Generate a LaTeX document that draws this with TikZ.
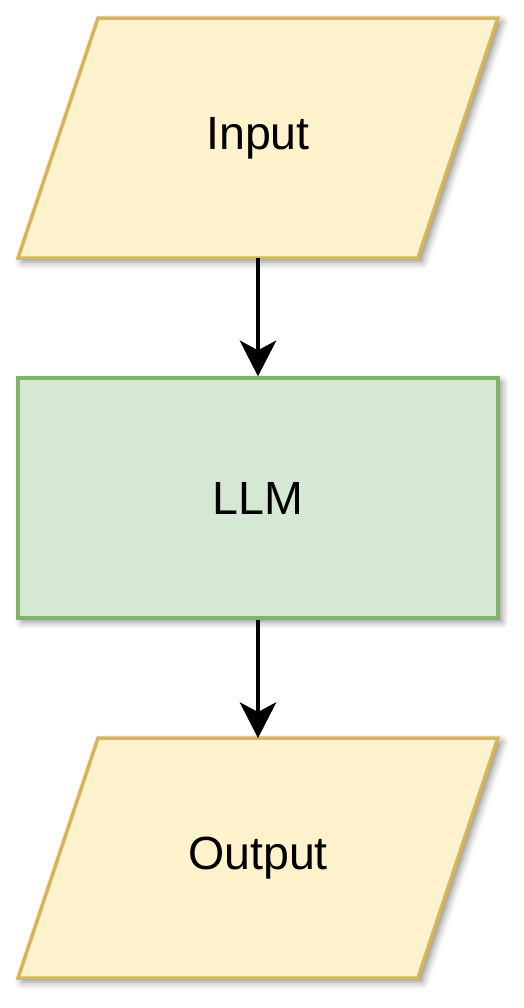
\documentclass[tikz,border=0pt]{standalone}
\usepackage{fontspec}
\setmainfont{Liberation Sans}
\usetikzlibrary{arrows.meta,shadows.blur}
\definecolor{yfill}{HTML}{FFF2CC}
\definecolor{ydraw}{HTML}{D6B656}
\definecolor{gfill}{HTML}{D5E8D4}
\definecolor{gdraw}{HTML}{82B366}
\tikzset{
  shade/.style={blur shadow={shadow xshift=0.08cm, shadow yshift=-0.08cm, shadow blur radius=0.14cm, shadow opacity=45}},
  iobox/.style={fill=yfill, draw=ydraw, line width=0.07cm, line join=miter, shade},
  procbox/.style={fill=gfill, draw=gdraw, line width=0.07cm, minimum width=9.6cm, minimum height=4.8cm, inner sep=0pt, shade},
  lbl/.style={font=\fontsize{26.5}{32}\selectfont, text=black},
  flow/.style={line width=0.08cm, -{Stealth[length=0.72cm, width=0.74cm, inset=0.2cm, fill=black, line width=0pt]}}
}
\begin{document}
\begin{tikzpicture}[x=0.02cm, y=-0.02cm]
\useasboundingbox (0,0) rectangle (524,1008);
% Input parallelogram
\path[iobox] (98,18) -- (498,18) -- (418,258) -- (18,258) -- cycle;
\node[lbl] (input) at (258,138) {Input};
\coordinate (inbot) at (258,258);
% LLM
\node[procbox, lbl] (llm) at (258,498) {LLM};
% Output parallelogram
\path[iobox] (98,738) -- (498,738) -- (418,978) -- (18,978) -- cycle;
\node[lbl] (output) at (258,858) {Output};
\coordinate (outtop) at (258,738);
% connectors
\draw[flow] (inbot) -- (llm.north);
\draw[flow] (llm.south) -- (outtop);
\end{tikzpicture}
\end{document}
